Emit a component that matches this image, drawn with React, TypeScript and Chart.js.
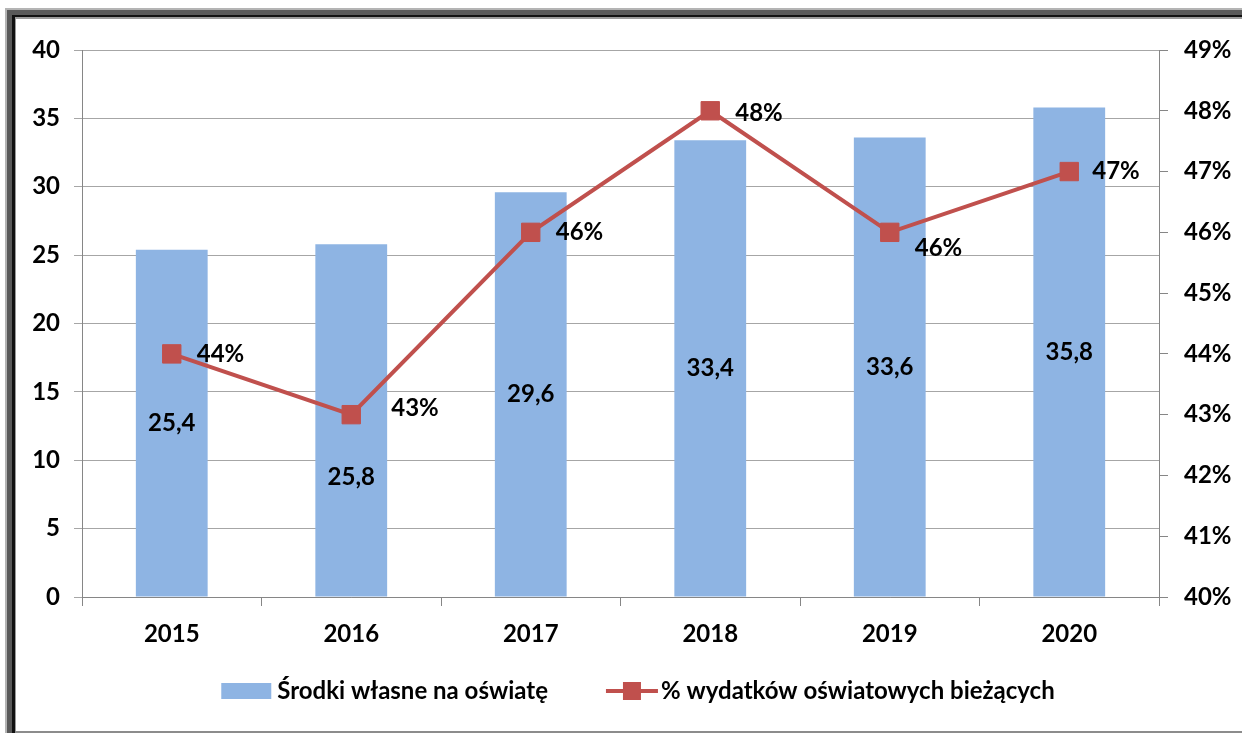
import React, { useEffect, useRef } from "react";
import { Chart, registerables } from "chart.js";

Chart.register(...registerables);

const years = ["2015", "2016", "2017", "2018", "2019", "2020"];
const ownFunds = [25.4, 25.8, 29.6, 33.4, 33.6, 35.8];
const sharePct = [44, 43, 46, 48, 46, 47];
const leftTicks = { min: 0, max: 40, step: 5 };
const rightTicks = { min: 40, max: 49, step: 1 };
const barLabel = "Środki własne na oświatę";
const lineLabel = "% wydatków oświatowych bieżących";

const BAR = "#8EB4E3";
const LINE = "#C0504D";
const FONT_FAMILY = "Lato, 'Open Sans', sans-serif";
const FONT = { family: FONT_FAMILY, size: 24, weight: "bold" as const };

// per-label nudges for the percentage labels (layout only)
const pctNudge = [
  [0, 0],
  [15, -6],
  [0, 0],
  [0, 2],
  [0, 16],
  [-2, 0],
];

const framePlugin = {
  id: "frame",
  beforeDraw(chart: any) {
    const ctx = chart.ctx;
    const W = chart.width;
    const H = chart.height;
    ctx.save();
    ctx.fillStyle = "#ffffff";
    ctx.fillRect(0, 0, W, H);
    ctx.fillStyle = "#b4b4b4";
    ctx.fillRect(5, 8, W - 5, 2);
    ctx.fillRect(5, 8, 2, H - 8);
    ctx.fillStyle = "#595959";
    ctx.fillRect(7, 10, W - 7, 5);
    ctx.fillRect(7, 10, 5, H - 10);
    ctx.fillStyle = "#111111";
    ctx.fillRect(12, 15, W - 12, 2);
    ctx.fillRect(12, 15, 3, H - 15);
    ctx.fillStyle = "#9a9a9a";
    ctx.fillRect(15, 17, W - 15, 2);
    ctx.fillRect(15, 17, 1, H - 17);
    ctx.fillStyle = "#8c8c8c";
    ctx.fillRect(15, H - 2, W - 15, 2);
    ctx.restore();
  },
};

const labelsPlugin = {
  id: "valueLabels",
  afterDatasetsDraw(chart: any) {
    const ctx = chart.ctx;
    const barMeta = chart.getDatasetMeta(0);
    const lineMeta = chart.getDatasetMeta(1);
    ctx.save();
    ctx.font = `bold ${FONT.size}px ${FONT_FAMILY}`;
    ctx.fillStyle = "#000";
    ctx.textBaseline = "middle";
    ctx.textAlign = "center";
    barMeta.data.forEach((bar: any, i: number) => {
      const mid = (bar.y + bar.base) / 2;
      const pt = lineMeta.data[i];
      let y = mid;
      if (Math.abs(mid - pt.y) < 40) y = pt.y + 63;
      const txt = ownFunds[i].toFixed(1).replace(".", ",");
      ctx.fillText(txt, bar.x, y);
    });
    ctx.textAlign = "left";
    lineMeta.data.forEach((pt: any, i: number) => {
      const [dx, dy] = pctNudge[i];
      ctx.fillText(`${sharePct[i]}%`, pt.x + 25 + dx, pt.y + dy);
    });
    ctx.restore();
  },
};

const legendPlugin = {
  id: "customLegend",
  afterDraw(chart: any) {
    const ctx = chart.ctx;
    ctx.save();
    ctx.font = `bold ${FONT.size}px ${FONT_FAMILY}`;
    const w1 = ctx.measureText(barLabel).width;
    const w2 = ctx.measureText(lineLabel).width;
    const total = 50 + 6 + w1 + 58 + 52 + 3 + w2;
    const cx = 638;
    let x = cx - total / 2;
    const y = 691;
    ctx.fillStyle = BAR;
    ctx.fillRect(x, y - 8, 50, 16);
    x += 56;
    ctx.fillStyle = "#000";
    ctx.textBaseline = "middle";
    ctx.textAlign = "left";
    ctx.fillText(barLabel, x, y);
    x += w1 + 58;
    ctx.strokeStyle = LINE;
    ctx.lineWidth = 4;
    ctx.beginPath();
    ctx.moveTo(x, y);
    ctx.lineTo(x + 52, y);
    ctx.stroke();
    ctx.fillStyle = LINE;
    ctx.fillRect(x + 26 - 9, y - 9, 18, 18);
    x += 55;
    ctx.fillStyle = "#000";
    ctx.fillText(lineLabel, x, y);
    ctx.restore();
  },
};

export default function App() {
  const ref = useRef<HTMLCanvasElement | null>(null);
  useEffect(() => {
    if (!ref.current) return;
    const chart = new Chart(ref.current, {
      type: "bar",
      data: {
        labels: years,
        datasets: [
          {
            type: "bar",
            label: barLabel,
            data: ownFunds,
            backgroundColor: BAR,
            borderWidth: 0,
            barPercentage: 0.4,
            categoryPercentage: 1,
            yAxisID: "y",
            order: 1,
          } as any,
          {
            type: "line",
            label: lineLabel,
            data: sharePct,
            borderColor: LINE,
            backgroundColor: LINE,
            borderWidth: 4,
            pointStyle: "rect",
            pointRadius: 13,
            pointBorderWidth: 1,
            pointBorderColor: LINE,
            pointBackgroundColor: LINE,
            tension: 0,
            yAxisID: "y1",
            order: 0,
          } as any,
        ],
      },
      options: {
        responsive: false,
        animation: false,
        devicePixelRatio: 1,
        layout: { padding: { left: 20, right: 0, top: 50, bottom: 76 } },
        plugins: {
          legend: { display: false },
          tooltip: { enabled: false },
        },
        scales: {
          x: {
            offset: true,
            grid: {
              offset: true,
              drawOnChartArea: false,
              drawTicks: true,
              tickLength: 9,
              color: "#868686",
            },
            border: { color: "#868686", width: 1 },
            ticks: { font: FONT, color: "#000", padding: 14 },
            afterFit: (s: any) => {
              s.height = 60;
            },
          },
          y: {
            position: "left",
            min: leftTicks.min,
            max: leftTicks.max,
            ticks: { stepSize: leftTicks.step, font: FONT, color: "#000", padding: 14 },
            grid: { color: "#a6a6a6", tickLength: 8 },
            border: { color: "#868686", width: 1 },
            afterFit: (s: any) => {
              s.width = 62;
            },
          },
          y1: {
            position: "right",
            min: rightTicks.min,
            max: rightTicks.max,
            ticks: {
              stepSize: rightTicks.step,
              font: FONT,
              color: "#000",
              padding: 16,
              callback: (v: any) => `${v}%`,
            },
            grid: { drawOnChartArea: false, tickLength: 9, color: "#868686" },
            border: { color: "#868686", width: 1 },
            afterFit: (s: any) => {
              s.width = 83;
            },
          },
        },
      } as any,
      plugins: [framePlugin, labelsPlugin, legendPlugin],
    });
    return () => chart.destroy();
  }, []);
  return (
    <div style={{ position: "absolute", left: 0, top: 0, width: 1242, height: 733 }}>
      <canvas ref={ref} width={1242} height={733} style={{ display: "block" }} />
    </div>
  );
}
